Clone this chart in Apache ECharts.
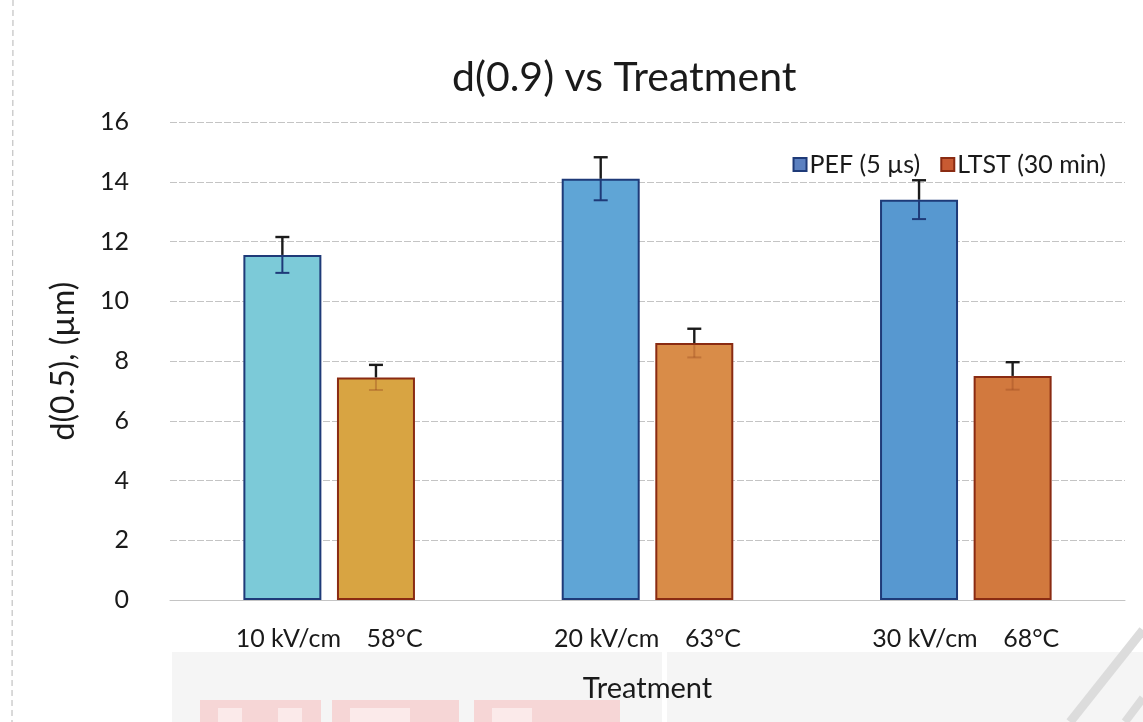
<!DOCTYPE html>
<html>
<head>
<meta charset="utf-8">
<title>d(0.9) vs Treatment</title>
<script src="https://cdn.jsdelivr.net/npm/echarts@6/dist/echarts.min.js"></script>
<style>
  html, body { margin: 0; padding: 0; background: #ffffff; }
  #chart { width: 1143px; height: 722px; }
</style>
</head>
<body>
<div id="chart"></div>
<script>
// Treatment categories (electric field for PEF, temperature for LTST)
const categories = ['10 kV/cm    58°C', '20 kV/cm    63°C', '30 kV/cm    68°C'];
const seriesNames = ['PEF (5 µs)', 'LTST (30 min)'];

// Mean particle size and standard deviation (µm)
const pefValues = [11.55, 14.1, 13.4];
const pefErrors = [0.6, 0.72, 0.65];
const ltstValues = [7.45, 8.6, 7.5];
const ltstErrors = [0.42, 0.48, 0.46];

const yTicks = { min: 0, max: 16, interval: 2 };

// Fill colours per bar
const pefFills = ['#7ccad8', '#5fa5d6', '#5798d0'];
const ltstFills = ['#d8a442', '#d98c48', '#d2793e'];

const FONT = 'Lato, "Open Sans", sans-serif';
const BAR_FRAC = 0.245;   // bar width as a fraction of the category band
const BAR_GAP = 0.2;      // gap between paired bars, fraction of bar width

const chart = echarts.init(document.getElementById('chart'), null, { renderer: 'canvas' });

function barData(values, fills) {
  return values.map((v, i) => ({ value: v, itemStyle: { color: fills[i] } }));
}

function errorData(values, errors) {
  return values.map((v, i) => [i, v, errors[i]]);
}

// Draws an I-beam error bar centred on the bar of one series
function makeErrorRenderer(side, innerColor) {
  return function (params, api) {
    const c = api.value(0), v = api.value(1), e = api.value(2);
    const band = api.size([1, 0])[0];
    const bw = band * BAR_FRAC;
    const off = side * bw * (1 + BAR_GAP) / 2;
    const top = api.coord([c, v + e]);
    const mid = api.coord([c, v]);
    const bot = api.coord([c, v - e]);
    const x = top[0] + off;
    const cap = 7;
    const dark = { stroke: '#1b1b1b', lineWidth: 2.4 };
    const inner = { stroke: innerColor, lineWidth: 2 };
    return {
      type: 'group',
      children: [
        { type: 'line', shape: { x1: x, y1: top[1], x2: x, y2: mid[1] }, style: dark },
        { type: 'line', shape: { x1: x - cap, y1: top[1], x2: x + cap, y2: top[1] }, style: dark },
        { type: 'line', shape: { x1: x, y1: mid[1], x2: x, y2: bot[1] }, style: inner },
        { type: 'line', shape: { x1: x - cap, y1: bot[1], x2: x + cap, y2: bot[1] }, style: inner }
      ]
    };
  };
}

const option = {
  backgroundColor: '#ffffff',
  animation: false,
  title: {
    text: 'd(0.9) vs Treatment',
    left: 447,
    top: 52,
    textStyle: { fontFamily: FONT, fontSize: 41, fontWeight: 'normal', color: '#1a1a1a' }
  },
  legend: {
    data: seriesNames,
    right: 32,
    top: 147,
    itemWidth: 13,
    itemHeight: 13,
    itemGap: 20,
    icon: 'rect',
    textStyle: { fontFamily: FONT, fontSize: 25, color: '#1a1a1a', padding: [0, 0, 0, -2] }
  },
  grid: { left: 170, right: 18, top: 122, bottom: 122 },
  xAxis: {
    type: 'category',
    data: categories,
    name: 'Treatment',
    nameLocation: 'middle',
    nameGap: 74,
    nameTextStyle: { fontFamily: FONT, fontSize: 29, color: '#1a1a1a' },
    axisLine: { show: true, lineStyle: { color: '#c4c4c4', width: 1 } },
    axisTick: { show: false },
    axisLabel: { fontFamily: FONT, fontSize: 25, color: '#1a1a1a', margin: 26 }
  },
  yAxis: {
    type: 'value',
    min: yTicks.min,
    max: yTicks.max,
    interval: yTicks.interval,
    name: 'd(0.5), (µm)',
    nameLocation: 'middle',
    nameGap: 90,
    nameTextStyle: { fontFamily: FONT, fontSize: 32, color: '#1a1a1a' },
    axisLine: { show: false },
    axisTick: { show: false },
    axisLabel: { fontFamily: FONT, fontSize: 25, color: '#1a1a1a', margin: 41 },
    splitLine: { lineStyle: { color: '#c4c4c4', width: 1, type: [7, 2] } }
  },
  graphic: [
    // faint page edge on the left
    { type: 'line', z: -10, shape: { x1: 13, y1: 0, x2: 12, y2: 722 },
      style: { stroke: '#b5b5b5', lineWidth: 1, lineDash: [6, 4] } },
    // printed watermark panel near the bottom
    { type: 'rect', z: -10, shape: { x: 172, y: 652, width: 490, height: 70 }, style: { fill: '#f5f5f5' } },
    { type: 'rect', z: -10, shape: { x: 667, y: 652, width: 476, height: 70 }, style: { fill: '#f5f5f5' } },
    { type: 'rect', z: -9, shape: { x: 200, y: 700, width: 121, height: 22 }, style: { fill: '#f6d6d6' } },
    { type: 'rect', z: -9, shape: { x: 332, y: 700, width: 127, height: 22 }, style: { fill: '#f6d6d6' } },
    { type: 'rect', z: -9, shape: { x: 474, y: 700, width: 146, height: 22 }, style: { fill: '#f6d6d6' } },
    { type: 'rect', z: -8, shape: { x: 218, y: 708, width: 24, height: 14 }, style: { fill: '#fbeaea' } },
    { type: 'rect', z: -8, shape: { x: 278, y: 708, width: 24, height: 14 }, style: { fill: '#fbeaea' } },
    { type: 'rect', z: -8, shape: { x: 350, y: 708, width: 60, height: 14 }, style: { fill: '#fbeaea' } },
    { type: 'rect', z: -8, shape: { x: 492, y: 708, width: 40, height: 14 }, style: { fill: '#fbeaea' } },
    { type: 'polyline', z: -9, shape: { points: [[1143, 630], [1070, 722]] },
      style: { stroke: '#dcdcdc', lineWidth: 9, fill: null } },
    { type: 'polyline', z: -9, shape: { points: [[1125, 722], [1143, 698]] },
      style: { stroke: '#dcdcdc', lineWidth: 8, fill: null } }
  ],
  series: [
    {
      name: seriesNames[0],
      type: 'bar',
      data: barData(pefValues, pefFills),
      barWidth: (BAR_FRAC * 100) + '%',
      barGap: (BAR_GAP * 100) + '%',
      itemStyle: { color: '#5b80c0', borderColor: '#1e3a78', borderWidth: 2 }
    },
    {
      name: seriesNames[1],
      type: 'bar',
      data: barData(ltstValues, ltstFills),
      barWidth: (BAR_FRAC * 100) + '%',
      barGap: (BAR_GAP * 100) + '%',
      itemStyle: { color: '#c85a32', borderColor: '#8a2b12', borderWidth: 2 }
    },
    {
      type: 'custom',
      name: 'pef-err',
      data: errorData(pefValues, pefErrors),
      renderItem: makeErrorRenderer(-1, '#1e3a78'),
      z: 5,
      silent: true
    },
    {
      type: 'custom',
      name: 'ltst-err',
      data: errorData(ltstValues, ltstErrors),
      renderItem: makeErrorRenderer(1, 'rgba(150,70,30,0.35)'),
      z: 5,
      silent: true
    }
  ]
};

chart.setOption(option);
</script>
</body>
</html>
